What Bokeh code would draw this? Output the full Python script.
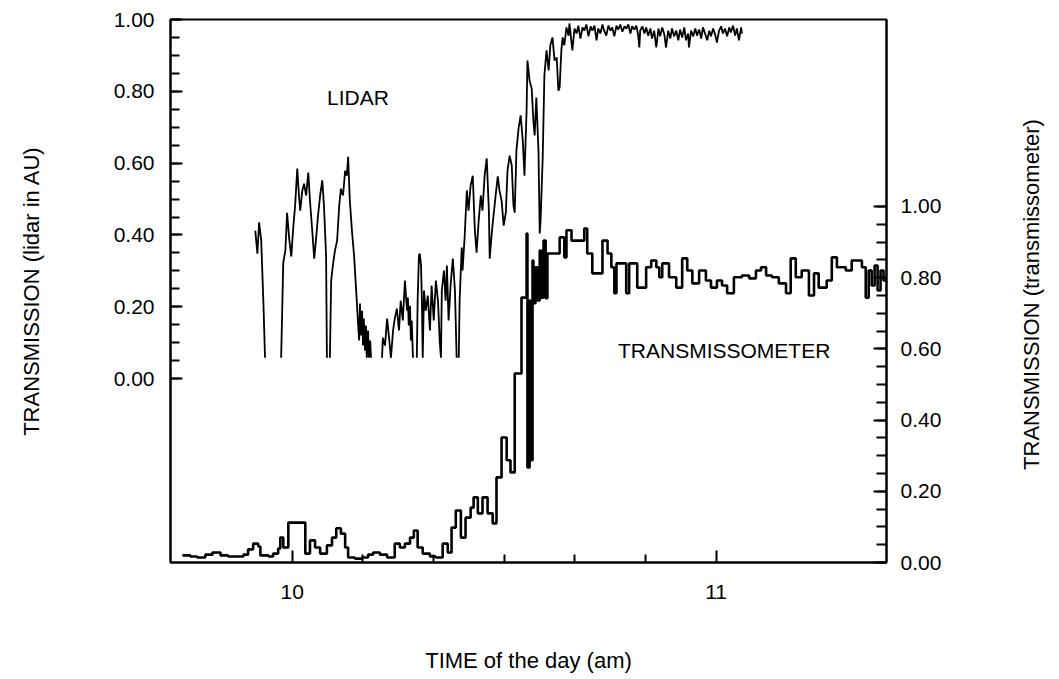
import math
from bokeh.plotting import figure
from bokeh.models import (Range1d, LinearAxis, FixedTicker, NumeralTickFormatter, Label,
                          CustomJSTickFormatter)
from bokeh.embed import file_html
from bokeh.resources import INLINE

nan = float("nan")

# LIDAR transmission (arbitrary units), time in decimal hours; NaN = below detection floor
lidar_t = [9.913, 9.918, 9.922, 9.927, 9.932, 9.936, nan,
           9.974, 9.979, 9.984, 9.988, 9.993, 9.998, 10.002, 10.007, 10.012, 10.016, 10.019, 10.024,
           10.028, 10.033, 10.038, 10.042, 10.047, 10.052, 10.056, 10.061, 10.066, 10.071, 10.075,
           10.080, 10.082, nan,
           10.089, 10.092, 10.096, 10.101, 10.106, 10.111, 10.115, 10.120, 10.125, 10.129, 10.132,
           10.136, 10.141, 10.146, 10.151, 10.153, 10.155, 10.158, 10.160, 10.162, 10.165, 10.167,
           10.169, 10.172, 10.174, 10.176, 10.179, 10.181, 10.184, 10.186, nan,
           10.212, 10.214, 10.219, 10.224, 10.228, 10.233, 10.238, 10.242, 10.247, 10.252, 10.256,
           10.261, 10.266, 10.271, 10.273, 10.275, 10.278, 10.280, 10.282, 10.285, nan,
           10.294, 10.296, 10.299, 10.301, 10.304, 10.306, 10.308, 10.311, 10.315, 10.320, 10.325,
           10.329, 10.334, 10.339, 10.344, 10.348, 10.351, 10.353, 10.358, 10.362, 10.365, 10.369,
           10.374, 10.379, 10.384, 10.388, nan,
           10.393, 10.395, 10.400, 10.402, 10.407, 10.412, 10.416, 10.421, 10.426, 10.431, 10.435,
           10.440, 10.445, 10.449, 10.454, 10.459, 10.464, 10.466, 10.471, 10.475, 10.480, 10.485,
           10.489, 10.494, 10.499, 10.504, 10.508, 10.513, 10.518, 10.522, 10.525, 10.529, 10.534,
           10.539, 10.544, 10.548, 10.553, 10.555, 10.560, 10.565, 10.569, 10.572, 10.576, 10.581,
           10.584, 10.586, 10.591, 10.595, 10.600, 10.605, 10.609, 10.614, 10.619, 10.624, 10.628,
           10.631, 10.635, 10.638, 10.642, 10.647, 10.652, 10.654,
           10.661, 10.666, 10.671, 10.675, 10.680, 10.685, 10.689, 10.694, 10.699, 10.704, 10.708,
           10.713, 10.718, 10.722, 10.727, 10.732, 10.736, 10.741, 10.746, 10.751, 10.755, 10.760,
           10.765, 10.769, 10.774, 10.779, 10.784, 10.788, 10.793, 10.798, 10.802, 10.807, 10.812,
           10.816, 10.819, 10.821, 10.826, 10.831, 10.835, 10.840, 10.845, 10.849, 10.854, 10.859,
           10.864, 10.868, 10.873, 10.878, 10.882, 10.887, 10.892, 10.896, 10.901, 10.906, 10.911,
           10.915, 10.920, 10.925, 10.929, 10.934, 10.936, 10.941, 10.946, 10.951, 10.955, 10.960,
           10.965, 10.969, 10.974, 10.979, 10.984, 10.988, 10.993, 10.998, 11.002, 11.007, 11.012,
           11.016, 11.021, 11.026, 11.031, 11.035, 11.040, 11.045, 11.049, 11.054, 11.059, 11.061]
lidar_v = [0.412, 0.348, 0.435, 0.384, 0.217, 0.058, nan,
           0.058, 0.323, 0.357, 0.462, 0.390, 0.340, 0.412, 0.482, 0.585, 0.510, 0.468, 0.524,
           0.543, 0.510, 0.574, 0.496, 0.418, 0.334, 0.384, 0.454, 0.510, 0.552, 0.482,
           0.343, 0.058, nan,
           0.058, 0.273, 0.315, 0.357, 0.384, 0.482, 0.529, 0.510, 0.579, 0.565, 0.618,
           0.496, 0.412, 0.343, 0.245, 0.203, 0.162, 0.106, 0.209, 0.120, 0.189, 0.092,
           0.167, 0.078, 0.148, 0.058, 0.134, 0.058, 0.106, 0.058, nan,
           0.058, 0.114, 0.092, 0.167, 0.120, 0.058, 0.134, 0.167, 0.195, 0.134, 0.217,
           0.162, 0.273, 0.189, 0.226, 0.148, 0.203, 0.106, 0.162, 0.058, nan,
           0.058, 0.217, 0.343, 0.348, 0.315, 0.217, 0.058, 0.245, 0.189, 0.231, 0.134,
           0.259, 0.162, 0.273, 0.217, 0.106, 0.058, 0.245, 0.301, 0.217, 0.315, 0.162,
           0.265, 0.334, 0.245, 0.058, nan,
           0.058, 0.217, 0.365, 0.301, 0.398, 0.524, 0.468, 0.538, 0.565, 0.412, 0.351,
           0.440, 0.510, 0.468, 0.565, 0.613, 0.468, 0.334, 0.407, 0.454, 0.510, 0.563,
           0.524, 0.496, 0.426, 0.462, 0.579, 0.621, 0.593, 0.482, 0.462, 0.635, 0.696,
           0.733, 0.663, 0.565, 0.747, 0.886, 0.830, 0.808, 0.719, 0.677, 0.783, 0.635,
           0.404, 0.440, 0.616, 0.844, 0.914, 0.858, 0.928, 0.950, 0.886, 0.894, 0.802,
           0.811, 0.914, 0.950, 0.928, 0.978, 0.955, 0.989,
           0.914, 0.975, 0.961, 0.983, 0.947, 0.978, 0.969, 0.986, 0.953, 0.981, 0.969,
           0.983, 0.942, 0.975, 0.961, 0.986, 0.969, 0.955, 0.983, 0.969, 0.978, 0.953,
           0.983, 0.972, 0.986, 0.966, 0.981, 0.975, 0.986, 0.961, 0.981, 0.972, 0.983,
           0.958, 0.922, 0.969, 0.981, 0.961, 0.978, 0.955, 0.975, 0.947, 0.969, 0.922,
           0.975, 0.953, 0.978, 0.958, 0.922, 0.969, 0.947, 0.975, 0.953, 0.969, 0.942,
           0.972, 0.950, 0.978, 0.942, 0.961, 0.922, 0.969, 0.953, 0.975, 0.955, 0.972,
           0.947, 0.978, 0.961, 0.942, 0.969, 0.953, 0.975, 0.958, 0.936, 0.969, 0.981,
           0.961, 0.975, 0.953, 0.978, 0.964, 0.983, 0.955, 0.975, 0.942, 0.978, 0.961]

# Transmissometer transmission (step series)
trans_t = [9.741, 9.760, 9.776, 9.795, 9.812, 9.831, 9.849, 9.868, 9.885, 9.896, 9.908, 9.920,
           9.925, 9.944, 9.955, 9.967, 9.972, 9.979, 9.991, 10.031, 10.042, 10.054, 10.066,
           10.082, 10.094, 10.104, 10.115, 10.125, 10.132, 10.148, 10.165, 10.179, 10.191,
           10.207, 10.224, 10.242, 10.254, 10.266, 10.278, 10.287, 10.296, 10.308, 10.325,
           10.339, 10.355, 10.367, 10.376, 10.386, 10.398, 10.409, 10.421, 10.428, 10.438,
           10.449, 10.461, 10.473, 10.482, 10.494, 10.506, 10.515, 10.525, 10.541, 10.553,
           10.555, 10.560, 10.562, 10.567, 10.569, 10.574, 10.579, 10.584, 10.588, 10.593,
           10.598, 10.602, 10.631, 10.642, 10.647, 10.659, 10.689, 10.696, 10.708, 10.732,
           10.744, 10.753, 10.760, 10.765, 10.788, 10.795, 10.814, 10.835, 10.847, 10.859,
           10.866, 10.873, 10.889, 10.906, 10.920, 10.932, 10.944, 10.960, 10.976, 10.988,
           11.002, 11.014, 11.026, 11.042, 11.061, 11.078, 11.094, 11.106, 11.118, 11.132,
           11.148, 11.165, 11.176, 11.188, 11.202, 11.219, 11.231, 11.242, 11.261, 11.273,
           11.285, 11.306, 11.320, 11.344, 11.353, 11.360, 11.367, 11.374, 11.381, 11.388,
           11.395, 11.402]
trans_v = [0.020, 0.017, 0.014, 0.022, 0.028, 0.020, 0.017, 0.017, 0.022, 0.037, 0.053, 0.045,
           0.020, 0.017, 0.025, 0.039, 0.070, 0.042, 0.112, 0.025, 0.062, 0.042, 0.025,
           0.048, 0.070, 0.096, 0.081, 0.042, 0.014, 0.011, 0.014, 0.022, 0.028,
           0.022, 0.014, 0.053, 0.042, 0.053, 0.070, 0.090, 0.042, 0.025, 0.017,
           0.014, 0.053, 0.028, 0.098, 0.146, 0.070, 0.126, 0.154, 0.183, 0.138,
           0.183, 0.138, 0.110, 0.239, 0.351, 0.287, 0.253, 0.531, 0.744, 0.924,
           0.267, 0.736, 0.287, 0.848, 0.728, 0.829, 0.736, 0.876, 0.744, 0.904,
           0.742, 0.868, 0.913, 0.857, 0.933, 0.904, 0.938, 0.868, 0.812, 0.904,
           0.868, 0.829, 0.756, 0.840, 0.756, 0.840, 0.772, 0.829, 0.848, 0.829,
           0.801, 0.840, 0.801, 0.772, 0.854, 0.820, 0.784, 0.820, 0.792, 0.772,
           0.792, 0.778, 0.756, 0.801, 0.806, 0.798, 0.820, 0.829, 0.806, 0.801,
           0.784, 0.756, 0.854, 0.801, 0.820, 0.750, 0.812, 0.772, 0.792, 0.857,
           0.829, 0.820, 0.848, 0.829, 0.744, 0.820, 0.778, 0.834, 0.764, 0.820,
           0.792, 0.792]

left_ticks = [0.0, 0.2, 0.4, 0.6, 0.8, 1.0]
left_minor = [i * 0.05 for i in range(21)]
right_ticks = [0.0, 0.2, 0.4, 0.6, 0.8, 1.0]
right_minor = [i * 0.05 for i in range(21)]
x_ticks = [10, 11]
x_minor = [10 + i / 6 for i in range(1, 6)]

FONT = "Liberation Sans"
FS = "21px"
FT = "22px"
RIGHT_TITLE = "TRANSMISSION (transmissometer)"

p = figure(width=1059, height=679, output_backend="svg", toolbar_location=None,
           x_range=Range1d(9.713, 11.402), y_range=Range1d(-0.512, 1.0))
p.extra_y_ranges = {"right": Range1d(0.0, 1.525)}
p.min_border_left = 170
p.min_border_right = 171
p.min_border_top = 19
p.min_border_bottom = 117
p.background_fill_color = "white"
p.border_fill_color = "white"
p.outline_line_color = "black"
p.outline_line_width = 2
p.xgrid.grid_line_color = None
p.ygrid.grid_line_color = None

def style_axis(ax, ticks, minor, fmt, maj_in, min_in, std, title, title_std):
    ax.ticker = FixedTicker(ticks=ticks, minor_ticks=minor)
    ax.formatter = NumeralTickFormatter(format=fmt)
    ax.axis_line_color = "black"
    ax.axis_line_width = 2
    ax.major_tick_in = maj_in
    ax.major_tick_out = 0
    ax.minor_tick_in = min_in
    ax.minor_tick_out = 0
    ax.major_tick_line_width = 2
    ax.minor_tick_line_width = 2
    ax.major_label_text_font = FONT
    ax.major_label_text_font_size = FS
    ax.major_label_text_color = "black"
    ax.major_label_standoff = std
    if title:
        ax.axis_label = title
        ax.axis_label_text_font = FONT
        ax.axis_label_text_font_size = FT
        ax.axis_label_text_font_style = "normal"
        ax.axis_label_text_color = "black"
        ax.axis_label_standoff = title_std

style_axis(p.xaxis[0], x_ticks, x_minor, "0", 12, 8, 22, "TIME of the day (am)", 46)
style_axis(p.yaxis[0], left_ticks, left_minor, "0.00", 12, 9, 16, "TRANSMISSION (lidar in AU)", 67)

raxis = LinearAxis(y_range_name="right")
style_axis(raxis, right_ticks, right_minor, "0.00", 13, 10, 14, None, 0)
p.add_layout(raxis, "right")

# right-hand title drawn as the single (rotated) label of an otherwise invisible axis,
# so that it reads bottom-to-top like the reference
taxis = LinearAxis(y_range_name="right")
taxis.ticker = FixedTicker(ticks=[0.26], minor_ticks=[])
taxis.formatter = CustomJSTickFormatter(code="return '%s'" % RIGHT_TITLE)
taxis.axis_line_color = None
taxis.major_tick_line_color = None
taxis.minor_tick_line_color = None
taxis.major_tick_in = 0
taxis.major_tick_out = 0
taxis.major_label_text_font = FONT
taxis.major_label_text_font_size = FT
taxis.major_label_text_color = "black"
taxis.major_label_orientation = math.pi / 2
taxis.major_label_standoff = 87
p.add_layout(taxis, "right")

p.line(lidar_t, lidar_v, line_color="black", line_width=1.8)
p.step(trans_t, trans_v, mode="after", line_color="black", line_width=2.6, y_range_name="right")

def lab(x, y, text, yr="default"):
    p.add_layout(Label(x=x, y=y, text=text, y_range_name=yr,
                       text_align="center", text_baseline="middle",
                       text_font=FONT, text_font_size=FS, text_color="black"))

lab(10.155, 0.783, "LIDAR")
lab(11.019, 0.596, "TRANSMISSOMETER", yr="right")

open("out.html", "w").write(file_html(p, INLINE))
